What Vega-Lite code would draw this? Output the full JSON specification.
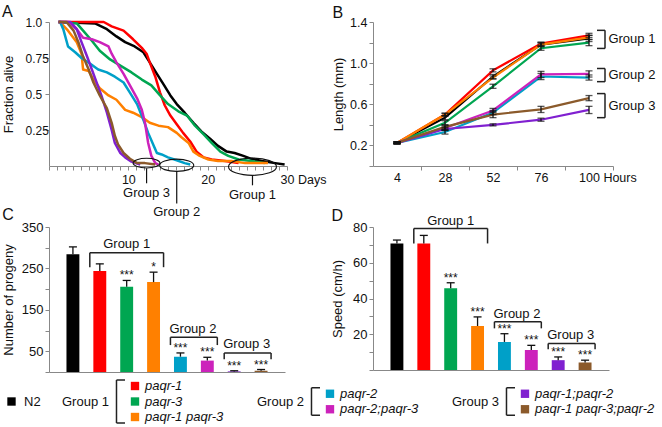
{
"$schema": "https://vega.github.io/schema/vega-lite/v6.json",
"background": "white",
"padding": {"left": 2, "top": 4, "right": 0, "bottom": 0},
"config": {
 "font": "Liberation Sans",
 "view": {"stroke": null},
 "axis": {"grid": false, "domainColor": "#888888", "tickColor": "#888888", "labelColor": "#111111", "titleColor": "#111111", "labelFont": "Liberation Sans", "titleFont": "Liberation Sans", "labelFontSize": 12.5, "titleFontSize": 13, "titleFontWeight": "normal", "tickSize": 4, "labelFlush": false, "labelOverlap": false, "labelPadding": 2},
 "title": {"anchor": "start", "frame": "bounds", "fontSize": 16, "fontWeight": "normal", "color": "#111111", "font": "Liberation Sans"},
 "text": {"font": "Liberation Sans", "color": "#111111"}
},
"datasets": {
 "survival": [
  {"strain":"N2","day":1.2,"frac":1},{"strain":"N2","day":5.8,"frac":0.99},{"strain":"N2","day":7.3,"frac":0.95},{"strain":"N2","day":8.5,"frac":0.9},{"strain":"N2","day":9.6,"frac":0.86},{"strain":"N2","day":10.8,"frac":0.83},{"strain":"N2","day":11.9,"frac":0.79},{"strain":"N2","day":12.7,"frac":0.72},{"strain":"N2","day":13.6,"frac":0.64},{"strain":"N2","day":14.4,"frac":0.57},{"strain":"N2","day":15.3,"frac":0.49},{"strain":"N2","day":16.1,"frac":0.43},{"strain":"N2","day":17.1,"frac":0.37},{"strain":"N2","day":18.2,"frac":0.3},{"strain":"N2","day":19.2,"frac":0.24},{"strain":"N2","day":20.3,"frac":0.19},{"strain":"N2","day":21.3,"frac":0.14},{"strain":"N2","day":22.4,"frac":0.1},{"strain":"N2","day":23.4,"frac":0.09},{"strain":"N2","day":24.5,"frac":0.07},{"strain":"N2","day":25.5,"frac":0.05},{"strain":"N2","day":26.8,"frac":0.035},{"strain":"N2","day":28.5,"frac":0.02},{"strain":"N2","day":29.7,"frac":0.01},
  {"strain":"paqr-1","day":1.2,"frac":1},{"strain":"paqr-1","day":6.9,"frac":1},{"strain":"paqr-1","day":7.9,"frac":0.97},{"strain":"paqr-1","day":9.4,"frac":0.94},{"strain":"paqr-1","day":10.6,"frac":0.88},{"strain":"paqr-1","day":11.7,"frac":0.82},{"strain":"paqr-1","day":12.3,"frac":0.78},{"strain":"paqr-1","day":12.7,"frac":0.72},{"strain":"paqr-1","day":13.4,"frac":0.62},{"strain":"paqr-1","day":14.0,"frac":0.51},{"strain":"paqr-1","day":14.6,"frac":0.42},{"strain":"paqr-1","day":15.3,"frac":0.35},{"strain":"paqr-1","day":16.1,"frac":0.29},{"strain":"paqr-1","day":16.9,"frac":0.23},{"strain":"paqr-1","day":17.8,"frac":0.17},{"strain":"paqr-1","day":18.6,"frac":0.1},{"strain":"paqr-1","day":19.5,"frac":0.06},{"strain":"paqr-1","day":20.5,"frac":0.045},{"strain":"paqr-1","day":22.2,"frac":0.035},{"strain":"paqr-1","day":23.9,"frac":0.02},
  {"strain":"paqr-3","day":1.2,"frac":1},{"strain":"paqr-3","day":3.5,"frac":0.99},{"strain":"paqr-3","day":4.3,"frac":0.94},{"strain":"paqr-3","day":5.4,"frac":0.87},{"strain":"paqr-3","day":6.4,"frac":0.8},{"strain":"paqr-3","day":7.7,"frac":0.74},{"strain":"paqr-3","day":9.2,"frac":0.69},{"strain":"paqr-3","day":10.4,"frac":0.65},{"strain":"paqr-3","day":11.7,"frac":0.6},{"strain":"paqr-3","day":12.9,"frac":0.56},{"strain":"paqr-3","day":14.0,"frac":0.49},{"strain":"paqr-3","day":15.0,"frac":0.43},{"strain":"paqr-3","day":16.3,"frac":0.38},{"strain":"paqr-3","day":17.4,"frac":0.35},{"strain":"paqr-3","day":18.4,"frac":0.28},{"strain":"paqr-3","day":19.5,"frac":0.22},{"strain":"paqr-3","day":20.5,"frac":0.16},{"strain":"paqr-3","day":21.6,"frac":0.1},{"strain":"paqr-3","day":22.6,"frac":0.07},{"strain":"paqr-3","day":23.9,"frac":0.045},{"strain":"paqr-3","day":25.5,"frac":0.035},{"strain":"paqr-3","day":27.2,"frac":0.02},
  {"strain":"paqr-1 paqr-3","day":1.2,"frac":1},{"strain":"paqr-1 paqr-3","day":1.4,"frac":1},{"strain":"paqr-1 paqr-3","day":2.4,"frac":0.94},{"strain":"paqr-1 paqr-3","day":3.5,"frac":0.86},{"strain":"paqr-1 paqr-3","day":4.1,"frac":0.78},{"strain":"paqr-1 paqr-3","day":4.3,"frac":0.67},{"strain":"paqr-1 paqr-3","day":5.0,"frac":0.66},{"strain":"paqr-1 paqr-3","day":5.6,"frac":0.6},{"strain":"paqr-1 paqr-3","day":6.4,"frac":0.54},{"strain":"paqr-1 paqr-3","day":7.5,"frac":0.49},{"strain":"paqr-1 paqr-3","day":8.5,"frac":0.46},{"strain":"paqr-1 paqr-3","day":9.6,"frac":0.39},{"strain":"paqr-1 paqr-3","day":10.6,"frac":0.37},{"strain":"paqr-1 paqr-3","day":11.7,"frac":0.34},{"strain":"paqr-1 paqr-3","day":12.7,"frac":0.3},{"strain":"paqr-1 paqr-3","day":13.8,"frac":0.28},{"strain":"paqr-1 paqr-3","day":15.0,"frac":0.27},{"strain":"paqr-1 paqr-3","day":16.1,"frac":0.23},{"strain":"paqr-1 paqr-3","day":16.7,"frac":0.2},{"strain":"paqr-1 paqr-3","day":17.6,"frac":0.16},{"strain":"paqr-1 paqr-3","day":18.2,"frac":0.1},{"strain":"paqr-1 paqr-3","day":19.0,"frac":0.07},{"strain":"paqr-1 paqr-3","day":20.1,"frac":0.045},{"strain":"paqr-1 paqr-3","day":21.3,"frac":0.035},{"strain":"paqr-1 paqr-3","day":23.0,"frac":0.035},{"strain":"paqr-1 paqr-3","day":24.7,"frac":0.02},{"strain":"paqr-1 paqr-3","day":27.6,"frac":0.02},
  {"strain":"paqr-2","day":1.2,"frac":1},{"strain":"paqr-2","day":1.4,"frac":1},{"strain":"paqr-2","day":1.8,"frac":0.95},{"strain":"paqr-2","day":2.4,"frac":0.83},{"strain":"paqr-2","day":3.3,"frac":0.79},{"strain":"paqr-2","day":4.1,"frac":0.75},{"strain":"paqr-2","day":5.2,"frac":0.71},{"strain":"paqr-2","day":6.2,"frac":0.67},{"strain":"paqr-2","day":7.3,"frac":0.65},{"strain":"paqr-2","day":8.3,"frac":0.62},{"strain":"paqr-2","day":9.4,"frac":0.58},{"strain":"paqr-2","day":10.2,"frac":0.51},{"strain":"paqr-2","day":11.1,"frac":0.43},{"strain":"paqr-2","day":11.9,"frac":0.32},{"strain":"paqr-2","day":12.5,"frac":0.23},{"strain":"paqr-2","day":13.2,"frac":0.14},{"strain":"paqr-2","day":13.6,"frac":0.09},{"strain":"paqr-2","day":14.2,"frac":0.08},{"strain":"paqr-2","day":15.0,"frac":0.06},{"strain":"paqr-2","day":16.1,"frac":0.04},{"strain":"paqr-2","day":17.1,"frac":0.02},{"strain":"paqr-2","day":17.8,"frac":0.01},
  {"strain":"paqr-2;paqr-3","day":1.2,"frac":1},{"strain":"paqr-2;paqr-3","day":2.4,"frac":1},{"strain":"paqr-2;paqr-3","day":3.5,"frac":0.95},{"strain":"paqr-2;paqr-3","day":4.3,"frac":0.89},{"strain":"paqr-2;paqr-3","day":5.4,"frac":0.88},{"strain":"paqr-2;paqr-3","day":6.4,"frac":0.86},{"strain":"paqr-2;paqr-3","day":7.5,"frac":0.83},{"strain":"paqr-2;paqr-3","day":7.9,"frac":0.78},{"strain":"paqr-2;paqr-3","day":8.5,"frac":0.72},{"strain":"paqr-2;paqr-3","day":9.4,"frac":0.64},{"strain":"paqr-2;paqr-3","day":10.2,"frac":0.56},{"strain":"paqr-2;paqr-3","day":11.1,"frac":0.47},{"strain":"paqr-2;paqr-3","day":11.7,"frac":0.39},{"strain":"paqr-2;paqr-3","day":12.1,"frac":0.3},{"strain":"paqr-2;paqr-3","day":12.5,"frac":0.16},{"strain":"paqr-2;paqr-3","day":12.9,"frac":0.07},{"strain":"paqr-2;paqr-3","day":13.4,"frac":0.02},{"strain":"paqr-2;paqr-3","day":13.8,"frac":0.01},
  {"strain":"paqr-1;paqr-2","day":1.2,"frac":1},{"strain":"paqr-1;paqr-2","day":2.7,"frac":1},{"strain":"paqr-1;paqr-2","day":3.5,"frac":0.95},{"strain":"paqr-1;paqr-2","day":4.1,"frac":0.86},{"strain":"paqr-1;paqr-2","day":4.8,"frac":0.76},{"strain":"paqr-1;paqr-2","day":5.4,"frac":0.67},{"strain":"paqr-1;paqr-2","day":6.0,"frac":0.58},{"strain":"paqr-1;paqr-2","day":6.6,"frac":0.49},{"strain":"paqr-1;paqr-2","day":7.3,"frac":0.37},{"strain":"paqr-1;paqr-2","day":7.9,"frac":0.25},{"strain":"paqr-1;paqr-2","day":8.3,"frac":0.16},{"strain":"paqr-1;paqr-2","day":9.0,"frac":0.09},{"strain":"paqr-1;paqr-2","day":9.6,"frac":0.06},{"strain":"paqr-1;paqr-2","day":10.4,"frac":0.03},{"strain":"paqr-1;paqr-2","day":11.5,"frac":0.01},
  {"strain":"paqr-1 paqr-3;paqr-2","day":1.2,"frac":1},{"strain":"paqr-1 paqr-3;paqr-2","day":2.2,"frac":1},{"strain":"paqr-1 paqr-3;paqr-2","day":3.1,"frac":0.94},{"strain":"paqr-1 paqr-3;paqr-2","day":3.7,"frac":0.86},{"strain":"paqr-1 paqr-3;paqr-2","day":4.3,"frac":0.76},{"strain":"paqr-1 paqr-3;paqr-2","day":5.0,"frac":0.67},{"strain":"paqr-1 paqr-3;paqr-2","day":5.6,"frac":0.58},{"strain":"paqr-1 paqr-3;paqr-2","day":6.4,"frac":0.49},{"strain":"paqr-1 paqr-3;paqr-2","day":7.3,"frac":0.4},{"strain":"paqr-1 paqr-3;paqr-2","day":7.9,"frac":0.3},{"strain":"paqr-1 paqr-3;paqr-2","day":8.3,"frac":0.21},{"strain":"paqr-1 paqr-3;paqr-2","day":8.7,"frac":0.15},{"strain":"paqr-1 paqr-3;paqr-2","day":9.4,"frac":0.09},{"strain":"paqr-1 paqr-3;paqr-2","day":10.2,"frac":0.05},{"strain":"paqr-1 paqr-3;paqr-2","day":11.1,"frac":0.02},{"strain":"paqr-1 paqr-3;paqr-2","day":12.1,"frac":0.02},{"strain":"paqr-1 paqr-3;paqr-2","day":13.4,"frac":0.01}
 ],
 "growth": [
  {"strain":"N2","hour":4,"len":0.225,"err":0.008},{"strain":"paqr-1","hour":4,"len":0.225,"err":0.008},{"strain":"paqr-3","hour":4,"len":0.225,"err":0.008},{"strain":"paqr-1 paqr-3","hour":4,"len":0.225,"err":0.008},{"strain":"paqr-2","hour":4,"len":0.225,"err":0.008},{"strain":"paqr-2;paqr-3","hour":4,"len":0.225,"err":0.008},{"strain":"paqr-1;paqr-2","hour":4,"len":0.225,"err":0.008},{"strain":"paqr-1 paqr-3;paqr-2","hour":4,"len":0.225,"err":0.008},
  {"strain":"N2","hour":28,"len":0.47,"err":0.02},{"strain":"paqr-1","hour":28,"len":0.5,"err":0.01},{"strain":"paqr-3","hour":28,"len":0.42,"err":0.02},{"strain":"paqr-1 paqr-3","hour":28,"len":0.5,"err":0.015},{"strain":"paqr-2","hour":28,"len":0.33,"err":0.02},{"strain":"paqr-2;paqr-3","hour":28,"len":0.37,"err":0.02},{"strain":"paqr-1;paqr-2","hour":28,"len":0.36,"err":0.015},{"strain":"paqr-1 paqr-3;paqr-2","hour":28,"len":0.38,"err":0.02},
  {"strain":"N2","hour":52,"len":0.87,"err":0.02},{"strain":"paqr-1","hour":52,"len":0.93,"err":0.015},{"strain":"paqr-3","hour":52,"len":0.775,"err":0.02},{"strain":"paqr-1 paqr-3","hour":52,"len":0.86,"err":0.015},{"strain":"paqr-2","hour":52,"len":0.52,"err":0.02},{"strain":"paqr-2;paqr-3","hour":52,"len":0.54,"err":0.02},{"strain":"paqr-1;paqr-2","hour":52,"len":0.4,"err":0.01},{"strain":"paqr-1 paqr-3;paqr-2","hour":52,"len":0.5,"err":0.03},
  {"strain":"N2","hour":76,"len":1.18,"err":0.02},{"strain":"paqr-1","hour":76,"len":1.19,"err":0.015},{"strain":"paqr-3","hour":76,"len":1.145,"err":0.02},{"strain":"paqr-1 paqr-3","hour":76,"len":1.18,"err":0.015},{"strain":"paqr-2","hour":76,"len":0.87,"err":0.03},{"strain":"paqr-2;paqr-3","hour":76,"len":0.89,"err":0.03},{"strain":"paqr-1;paqr-2","hour":76,"len":0.45,"err":0.015},{"strain":"paqr-1 paqr-3;paqr-2","hour":76,"len":0.55,"err":0.03},
  {"strain":"N2","hour":100,"len":1.24,"err":0.03},{"strain":"paqr-1","hour":100,"len":1.27,"err":0.02},{"strain":"paqr-3","hour":100,"len":1.2,"err":0.03},{"strain":"paqr-1 paqr-3","hour":100,"len":1.25,"err":0.02},{"strain":"paqr-2","hour":100,"len":0.86,"err":0.025},{"strain":"paqr-2;paqr-3","hour":100,"len":0.895,"err":0.03},{"strain":"paqr-1;paqr-2","hour":100,"len":0.545,"err":0.035},{"strain":"paqr-1 paqr-3;paqr-2","hour":100,"len":0.66,"err":0.025}
 ],
 "progeny": [
  {"strain":"N2","value":284,"upper":302,"sig":""},{"strain":"paqr-1","value":244,"upper":261,"sig":""},{"strain":"paqr-3","value":206,"upper":221,"sig":"***"},{"strain":"paqr-1 paqr-3","value":217,"upper":241,"sig":"*"},{"strain":"paqr-2","value":37,"upper":46,"sig":"***"},{"strain":"paqr-2;paqr-3","value":27.5,"upper":35.5,"sig":"***"},{"strain":"paqr-1;paqr-2","value":1.5,"upper":3,"sig":"***"},{"strain":"paqr-1 paqr-3;paqr-2","value":3,"upper":6,"sig":"***"}
 ],
 "speed": [
  {"strain":"N2","value":70.8,"upper":72.7,"sig":""},{"strain":"paqr-1","value":70.8,"upper":75.3,"sig":""},{"strain":"paqr-3","value":45.7,"upper":48.8,"sig":"***"},{"strain":"paqr-1 paqr-3","value":24.6,"upper":29.7,"sig":"***"},{"strain":"paqr-2","value":15.7,"upper":20.3,"sig":"***"},{"strain":"paqr-2;paqr-3","value":11.2,"upper":13.8,"sig":"***"},{"strain":"paqr-1;paqr-2","value":5.5,"upper":7.3,"sig":"***"},{"strain":"paqr-1 paqr-3;paqr-2","value":4.2,"upper":5.5,"sig":"***"}
 ],
 "annA": [
  {"group":"Group 1","day":25.65,"frac":-0.005,"span":6.05,"top":-0.065,"bottom":-0.134,"ly":-0.2},
  {"group":"Group 2","day":16.1,"frac":0.005,"span":4.3,"top":-0.037,"bottom":-0.26,"ly":-0.32},
  {"group":"Group 3","day":12.3,"frac":0.02,"span":3.4,"top":-0.016,"bottom":-0.12,"ly":-0.19}
 ],
 "annB": [
  {"group":"Group 1","lo":1.143,"hi":1.319,"mid":1.23},
  {"group":"Group 2","lo":0.82,"hi":0.948,"mid":0.885},
  {"group":"Group 3","lo":0.47,"hi":0.704,"mid":0.588}
 ],
 "annC": [
  {"group":"Group 1","from":"paqr-1","to":"paqr-1 paqr-3","mid":"paqr-3","top":288,"bottom":253,"ly":309},
  {"group":"Group 2","from":"paqr-2","to":"paqr-2;paqr-3","top":84,"bottom":65,"ly":103},
  {"group":"Group 3","from":"paqr-1;paqr-2","to":"paqr-1 paqr-3;paqr-2","top":46,"bottom":31,"ly":68}
 ],
 "annD": [
  {"group":"Group 1","from":"paqr-1","to":"paqr-1 paqr-3","mid":"paqr-3","top":79.2,"bottom":70.8,"ly":83.3},
  {"group":"Group 2","from":"paqr-2","to":"paqr-2;paqr-3","top":27,"bottom":23.3,"ly":31.2},
  {"group":"Group 3","from":"paqr-1;paqr-2","to":"paqr-1 paqr-3;paqr-2","top":14.8,"bottom":11.6,"ly":19.6}
 ],
 "legendItems": [
  {"strain":"N2","label":"N2","group":0,"line":2},
  {"strain":"paqr-1","label":"paqr-1","group":1,"line":1},
  {"strain":"paqr-3","label":"paqr-3","group":1,"line":2},
  {"strain":"paqr-1 paqr-3","label":"paqr-1 paqr-3","group":1,"line":3},
  {"strain":"paqr-2","label":"paqr-2","group":2,"line":1.5},
  {"strain":"paqr-2;paqr-3","label":"paqr-2;paqr-3","group":2,"line":2.5},
  {"strain":"paqr-1;paqr-2","label":"paqr-1;paqr-2","group":3,"line":1.5},
  {"strain":"paqr-1 paqr-3;paqr-2","label":"paqr-1 paqr-3;paqr-2","group":3,"line":2.5}
 ],
 "legendGroups": [
  {"label":"Group 1","group":1},{"label":"Group 2","group":2},{"label":"Group 3","group":3}
 ]
},
"spacing": 0,
"vconcat": [
 {
  "columns": 2,
  "spacing": {"row": 61, "column": 86},
  "bounds": "flush",
  "concat": [
   {
    "title": {"text": "A", "offset": -4},
    "width": 238, "height": 144,
    "layer": [
     {
      "data": {"name": "survival"},
      "mark": {"type": "line", "strokeWidth": 2.5, "strokeJoin": "round"},
      "encoding": {
       "x": {"field": "day", "type": "quantitative", "scale": {"domain": [0, 30], "nice": false, "zero": false},
             "axis": {"title": null, "labelOverlap": false, "tickCount": 100, "values": [0,1,2,3,4,5,6,7,8,9,10,11,12,13,14,15,16,17,18,19,20,21,22,23,24,25,26,27,28,29,30],
                      "labelExpr": "datum.value == 10 ? '10' : datum.value == 20 ? '20' : datum.value == 30 ? '30 Days' : ''",
                      "labelOffset": {"condition": {"test": "datum.value == 30", "value": 16}, "value": 0},
                      "labelPadding": 3}},
       "y": {"field": "frac", "type": "quantitative", "scale": {"domain": [0, 1], "nice": false},
             "axis": {"title": "Fraction alive", "labelOverlap": false, "tickCount": 100, "values": [0.25, 0.5, 0.75, 1],
                      "labelExpr": "datum.value == 1 ? '1.0' : datum.value == 0.5 ? '0.5' : datum.value == 0.25 ? '0.25' : '0.75'",
                      "labelAlign": "left", "labelFontSize": 12, "labelPadding": 20, "titlePadding": 10}},
       "color": {"field": "strain", "type": "nominal", "legend": null,
                 "scale": {"domain": ["N2","paqr-1","paqr-3","paqr-1 paqr-3","paqr-2","paqr-2;paqr-3","paqr-1;paqr-2","paqr-1 paqr-3;paqr-2"],
                           "range": ["#000000","#FF0000","#00A651","#FF8000","#00A0C8","#CC22BB","#8020D0","#8B5A2B"]}}
      }
     },
     {
      "data": {"name": "annA"},
      "mark": {"type": "point", "shape": "M-1,0A1,0.36 0 1,0 1,0A1,0.36 0 1,0 -1,0Z", "filled": false, "color": "#111111", "strokeWidth": 1.1, "opacity": 1},
      "encoding": {
       "x": {"field": "day", "type": "quantitative"},
       "y": {"field": "frac", "type": "quantitative"},
       "size": {"field": "span", "type": "quantitative", "legend": null, "scale": {"type": "pow", "exponent": 2, "domain": [0, 6], "range": [0, 2264]}}
      }
     },
     {
      "data": {"name": "annA"},
      "mark": {"type": "rule", "color": "#111111", "strokeWidth": 1.2},
      "encoding": {
       "x": {"field": "day", "type": "quantitative"},
       "y": {"field": "top", "type": "quantitative"},
       "y2": {"field": "bottom"}
      }
     },
     {
      "data": {"name": "annA"},
      "mark": {"type": "text", "fontSize": 13, "baseline": "middle", "align": "center"},
      "encoding": {
       "x": {"field": "day", "type": "quantitative"},
       "y": {"field": "ly", "type": "quantitative"},
       "text": {"field": "group"}
      }
     }
    ]
   },
   {
    "title": {"text": "B", "offset": -5},
    "width": 240, "height": 144,
    "layer": [
     {
      "data": {"name": "growth"},
      "mark": {"type": "line", "strokeWidth": 2.2},
      "encoding": {
       "x": {"field": "hour", "type": "quantitative", "scale": {"domain": [-8, 112], "nice": false, "zero": false},
             "axis": {"title": null, "labelOverlap": false, "tickCount": 100, "values": [16, 40, 64, 88, 112],
                      "labelExpr": "datum.value == 16 ? '4' : datum.value == 40 ? '28' : datum.value == 64 ? '52' : datum.value == 88 ? '76' : '100 Hours'",
                      "labelOffset": {"condition": {"test": "datum.value == 112", "value": -5.6}, "value": -24},
                      "labelPadding": 1}},
       "y": {"field": "len", "type": "quantitative", "scale": {"domain": [0, 1.4], "nice": false},
             "axis": {"title": "Length (mm)", "labelOverlap": false, "tickCount": 100, "values": [0, 0.2, 0.4, 0.6, 0.8, 1.0, 1.2, 1.4],
                      "labelExpr": "round(datum.value * 10) % 4 == 2 ? format(datum.value, '.1f') : ''",
                      "titlePadding": 4}},
       "color": {"field": "strain", "type": "nominal", "legend": null,
                 "scale": {"domain": ["N2","paqr-1","paqr-3","paqr-1 paqr-3","paqr-2","paqr-2;paqr-3","paqr-1;paqr-2","paqr-1 paqr-3;paqr-2"],
                           "range": ["#000000","#FF0000","#00A651","#FF8000","#00A0C8","#CC22BB","#8020D0","#8B5A2B"]}}
      }
     },
     {
      "data": {"name": "growth"},
      "mark": {"type": "errorbar", "ticks": true, "size": 7, "thickness": 1.3, "color": "#111111"},
      "encoding": {
       "x": {"field": "hour", "type": "quantitative", "title": null},
       "y": {"field": "len", "type": "quantitative", "title": "Length (mm)"},
       "yError": {"field": "err"}
      }
     },
     {
      "data": {"name": "annB"},
      "mark": {"type": "rule", "color": "#222222", "strokeWidth": 1.5},
      "encoding": {
       "x": {"datum": 108, "type": "quantitative"},
       "y": {"field": "lo", "type": "quantitative"},
       "y2": {"field": "hi"}
      }
     },
     {
      "data": {"name": "annB"},
      "mark": {"type": "rule", "color": "#222222", "strokeWidth": 1.5},
      "encoding": {
       "x": {"datum": 104, "type": "quantitative"},
       "x2": {"datum": 108},
       "y": {"field": "lo", "type": "quantitative"}
      }
     },
     {
      "data": {"name": "annB"},
      "mark": {"type": "rule", "color": "#222222", "strokeWidth": 1.5},
      "encoding": {
       "x": {"datum": 104, "type": "quantitative"},
       "x2": {"datum": 108},
       "y": {"field": "hi", "type": "quantitative"}
      }
     },
     {
      "data": {"name": "annB"},
      "mark": {"type": "text", "fontSize": 13, "align": "left", "baseline": "middle"},
      "encoding": {
       "x": {"datum": 109.7, "type": "quantitative"},
       "y": {"field": "mid", "type": "quantitative"},
       "text": {"field": "group"}
      }
     }
    ]
   },
   {
    "title": {"text": "C", "offset": -2},
    "width": 236, "height": 145,
    "layer": [
     {
      "data": {"name": "progeny"},
      "mark": {"type": "bar"},
      "encoding": {
       "x": {"field": "strain", "type": "nominal", "sort": null,
             "scale": {"domain": ["N2","paqr-1","paqr-3","paqr-1 paqr-3","paqr-2","paqr-2;paqr-3","paqr-1;paqr-2","paqr-1 paqr-3;paqr-2"], "paddingInner": 0.52, "paddingOuter": 0.65},
             "axis": {"title": null, "labels": false, "ticks": false}},
       "y": {"field": "value", "type": "quantitative", "scale": {"domain": [0, 350], "nice": false},
             "axis": {"title": "Number of progeny", "labelOverlap": false, "tickCount": 100, "values": [0, 50, 100, 150, 200, 250, 300, 350],
                      "labelExpr": "datum.value % 100 == 50 ? datum.label : ''", "labelFontSize": 13, "titlePadding": 6}},
       "color": {"field": "strain", "type": "nominal", "legend": null,
                 "scale": {"domain": ["N2","paqr-1","paqr-3","paqr-1 paqr-3","paqr-2","paqr-2;paqr-3","paqr-1;paqr-2","paqr-1 paqr-3;paqr-2"],
                           "range": ["#000000","#FF0000","#00A651","#FF8000","#00A0C8","#CC22BB","#8020D0","#8B5A2B"]}}
      }
     },
     {
      "data": {"name": "progeny"},
      "mark": {"type": "rule", "color": "#111111", "strokeWidth": 1.3},
      "encoding": {
       "x": {"field": "strain", "type": "nominal"},
       "y": {"field": "value", "type": "quantitative"},
       "y2": {"field": "upper"}
      }
     },
     {
      "data": {"name": "progeny"},
      "mark": {"type": "tick", "color": "#111111", "size": 8, "thickness": 1.3, "opacity": 1},
      "encoding": {
       "x": {"field": "strain", "type": "nominal"},
       "y": {"field": "upper", "type": "quantitative"}
      }
     },
     {
      "data": {"name": "progeny"},
      "mark": {"type": "text", "fontSize": 12, "baseline": "alphabetic", "dy": -1},
      "encoding": {
       "x": {"field": "strain", "type": "nominal"},
       "y": {"field": "upper", "type": "quantitative"},
       "text": {"field": "sig"}
      }
     },
     {
      "data": {"name": "annC"},
      "mark": {"type": "rule", "color": "#222222", "strokeWidth": 1.5, "xOffset": -10, "x2Offset": 10},
      "encoding": {
       "x": {"field": "from", "type": "nominal"},
       "x2": {"field": "to"},
       "y": {"field": "top", "type": "quantitative"}
      }
     },
     {
      "data": {"name": "annC"},
      "mark": {"type": "rule", "color": "#222222", "strokeWidth": 1.5, "xOffset": -10},
      "encoding": {
       "x": {"field": "from", "type": "nominal"},
       "y": {"field": "top", "type": "quantitative"},
       "y2": {"field": "bottom"}
      }
     },
     {
      "data": {"name": "annC"},
      "mark": {"type": "rule", "color": "#222222", "strokeWidth": 1.5, "xOffset": 10},
      "encoding": {
       "x": {"field": "to", "type": "nominal"},
       "y": {"field": "top", "type": "quantitative"},
       "y2": {"field": "bottom"}
      }
     },
     {
      "data": {"name": "annC"},
      "transform": [{"filter": "datum.mid"}],
      "mark": {"type": "text", "fontSize": 13, "baseline": "middle", "align": "center"},
      "encoding": {
       "x": {"field": "mid", "type": "nominal"},
       "y": {"field": "ly", "type": "quantitative"},
       "text": {"field": "group"}
      }
     },
     {
      "data": {"name": "annC"},
      "transform": [{"filter": "!datum.mid"}],
      "mark": {"type": "text", "fontSize": 13, "baseline": "middle", "align": "left", "dx": -11},
      "encoding": {
       "x": {"field": "from", "type": "nominal"},
       "y": {"field": "ly", "type": "quantitative"},
       "text": {"field": "group"}
      }
     }
    ]
   },
   {
    "title": {"text": "D", "offset": -8.7},
    "width": 236, "height": 143,
    "layer": [
     {
      "data": {"name": "speed"},
      "mark": {"type": "bar"},
      "encoding": {
       "x": {"field": "strain", "type": "nominal", "sort": null,
             "scale": {"domain": ["N2","paqr-1","paqr-3","paqr-1 paqr-3","paqr-2","paqr-2;paqr-3","paqr-1;paqr-2","paqr-1 paqr-3;paqr-2"], "paddingInner": 0.52, "paddingOuter": 0.65},
             "axis": {"title": null, "labels": false, "ticks": false}},
       "y": {"field": "value", "type": "quantitative", "scale": {"domain": [0, 80], "nice": false},
             "axis": {"title": "Speed (cm/h)", "labelOverlap": false, "tickCount": 100, "values": [0, 10, 20, 30, 40, 50, 60, 70, 80],
                      "labelExpr": "datum.value % 20 == 0 && datum.value > 0 ? datum.label : ''", "labelFontSize": 13, "titlePadding": 8}},
       "color": {"field": "strain", "type": "nominal", "legend": null,
                 "scale": {"domain": ["N2","paqr-1","paqr-3","paqr-1 paqr-3","paqr-2","paqr-2;paqr-3","paqr-1;paqr-2","paqr-1 paqr-3;paqr-2"],
                           "range": ["#000000","#FF0000","#00A651","#FF8000","#00A0C8","#CC22BB","#8020D0","#8B5A2B"]}}
      }
     },
     {
      "data": {"name": "speed"},
      "mark": {"type": "rule", "color": "#111111", "strokeWidth": 1.3},
      "encoding": {
       "x": {"field": "strain", "type": "nominal"},
       "y": {"field": "value", "type": "quantitative"},
       "y2": {"field": "upper"}
      }
     },
     {
      "data": {"name": "speed"},
      "mark": {"type": "tick", "color": "#111111", "size": 8, "thickness": 1.3, "opacity": 1},
      "encoding": {
       "x": {"field": "strain", "type": "nominal"},
       "y": {"field": "upper", "type": "quantitative"}
      }
     },
     {
      "data": {"name": "speed"},
      "mark": {"type": "text", "fontSize": 12, "baseline": "alphabetic", "dy": -1},
      "encoding": {
       "x": {"field": "strain", "type": "nominal"},
       "y": {"field": "upper", "type": "quantitative"},
       "text": {"field": "sig"}
      }
     },
     {
      "data": {"name": "annD"},
      "mark": {"type": "rule", "color": "#222222", "strokeWidth": 1.5, "xOffset": -10, "x2Offset": 10},
      "encoding": {
       "x": {"field": "from", "type": "nominal"},
       "x2": {"field": "to"},
       "y": {"field": "top", "type": "quantitative"}
      }
     },
     {
      "data": {"name": "annD"},
      "mark": {"type": "rule", "color": "#222222", "strokeWidth": 1.5, "xOffset": -10},
      "encoding": {
       "x": {"field": "from", "type": "nominal"},
       "y": {"field": "top", "type": "quantitative"},
       "y2": {"field": "bottom"}
      }
     },
     {
      "data": {"name": "annD"},
      "mark": {"type": "rule", "color": "#222222", "strokeWidth": 1.5, "xOffset": 10},
      "encoding": {
       "x": {"field": "to", "type": "nominal"},
       "y": {"field": "top", "type": "quantitative"},
       "y2": {"field": "bottom"}
      }
     },
     {
      "data": {"name": "annD"},
      "transform": [{"filter": "datum.mid"}],
      "mark": {"type": "text", "fontSize": 13, "baseline": "middle", "align": "center"},
      "encoding": {
       "x": {"field": "mid", "type": "nominal"},
       "y": {"field": "ly", "type": "quantitative"},
       "text": {"field": "group"}
      }
     },
     {
      "data": {"name": "annD"},
      "transform": [{"filter": "!datum.mid"}],
      "mark": {"type": "text", "fontSize": 13, "baseline": "middle", "align": "left", "dx": -11},
      "encoding": {
       "x": {"field": "from", "type": "nominal"},
       "y": {"field": "ly", "type": "quantitative"},
       "text": {"field": "group"}
      }
     }
    ]
   }
  ]
 },
 {
  "width": 600, "height": 40,
  "layer": [
   {
    "data": {"name": "legendItems"},
    "transform": [{"filter": "datum.group > 0"}],
    "mark": {"type": "point", "shape": "square", "filled": true, "size": 70, "opacity": 1},
    "encoding": {
     "x": {"field": "group", "type": "quantitative", "scale": {"domain": [0.559, 3.636], "nice": false, "zero": false}, "axis": null},
     "y": {"field": "line", "type": "quantitative", "scale": {"domain": [0.677, 3.258], "nice": false, "zero": false, "reverse": true}, "axis": null},
     "color": {"field": "strain", "type": "nominal", "legend": null,
               "scale": {"domain": ["N2","paqr-1","paqr-3","paqr-1 paqr-3","paqr-2","paqr-2;paqr-3","paqr-1;paqr-2","paqr-1 paqr-3;paqr-2"],
                         "range": ["#000000","#FF0000","#00A651","#FF8000","#00A0C8","#CC22BB","#8020D0","#8B5A2B"]}}
    }
   },
   {
    "data": {"name": "legendItems"},
    "transform": [{"filter": "datum.group == 0"}],
    "mark": {"type": "point", "shape": "square", "filled": true, "size": 70, "opacity": 1, "color": "#000000", "xOffset": 71.5},
    "encoding": {
     "x": {"field": "group", "type": "quantitative"},
     "y": {"field": "line", "type": "quantitative"}
    }
   },
   {
    "data": {"name": "legendItems"},
    "transform": [{"filter": "datum.group > 0"}],
    "mark": {"type": "text", "fontSize": 13, "fontStyle": "italic", "align": "left", "baseline": "middle", "dx": 10},
    "encoding": {
     "x": {"field": "group", "type": "quantitative"},
     "y": {"field": "line", "type": "quantitative"},
     "text": {"field": "label"}
    }
   },
   {
    "data": {"name": "legendItems"},
    "transform": [{"filter": "datum.group == 0"}],
    "mark": {"type": "text", "fontSize": 13, "align": "left", "baseline": "middle", "dx": 84},
    "encoding": {
     "x": {"field": "group", "type": "quantitative"},
     "y": {"field": "line", "type": "quantitative"},
     "text": {"field": "label"}
    }
   },
   {
    "data": {"name": "legendGroups"},
    "mark": {"type": "text", "fontSize": 13, "align": "right", "baseline": "middle", "dx": -26},
    "encoding": {
     "x": {"field": "group", "type": "quantitative"},
     "y": {"datum": 2, "type": "quantitative"},
     "text": {"field": "label"}
    }
   },
   {
    "data": {"name": "legendItems"},
    "transform": [{"filter": "datum.group > 0"}, {"aggregate": [{"op": "min", "field": "line", "as": "lo"}, {"op": "max", "field": "line", "as": "hi"}], "groupby": ["group"]}],
    "mark": {"type": "rule", "color": "#222222", "strokeWidth": 1.5, "xOffset": -18.5, "yOffset": -6, "y2Offset": 6},
    "encoding": {
     "x": {"field": "group", "type": "quantitative"},
     "y": {"field": "lo", "type": "quantitative"},
     "y2": {"field": "hi"}
    }
   },
   {
    "data": {"name": "legendItems"},
    "transform": [{"filter": "datum.group > 0"}, {"aggregate": [{"op": "min", "field": "line", "as": "lo"}, {"op": "max", "field": "line", "as": "hi"}], "groupby": ["group"]}],
    "mark": {"type": "rule", "color": "#222222", "strokeWidth": 1.5, "xOffset": -18.5, "x2Offset": -10, "yOffset": -6},
    "encoding": {
     "x": {"field": "group", "type": "quantitative"},
     "x2": {"field": "group"},
     "y": {"field": "lo", "type": "quantitative"}
    }
   },
   {
    "data": {"name": "legendItems"},
    "transform": [{"filter": "datum.group > 0"}, {"aggregate": [{"op": "min", "field": "line", "as": "lo"}, {"op": "max", "field": "line", "as": "hi"}], "groupby": ["group"]}],
    "mark": {"type": "rule", "color": "#222222", "strokeWidth": 1.5, "xOffset": -18.5, "x2Offset": -10, "yOffset": 6},
    "encoding": {
     "x": {"field": "group", "type": "quantitative"},
     "x2": {"field": "group"},
     "y": {"field": "hi", "type": "quantitative"}
    }
   }
  ]
 }
]
}
